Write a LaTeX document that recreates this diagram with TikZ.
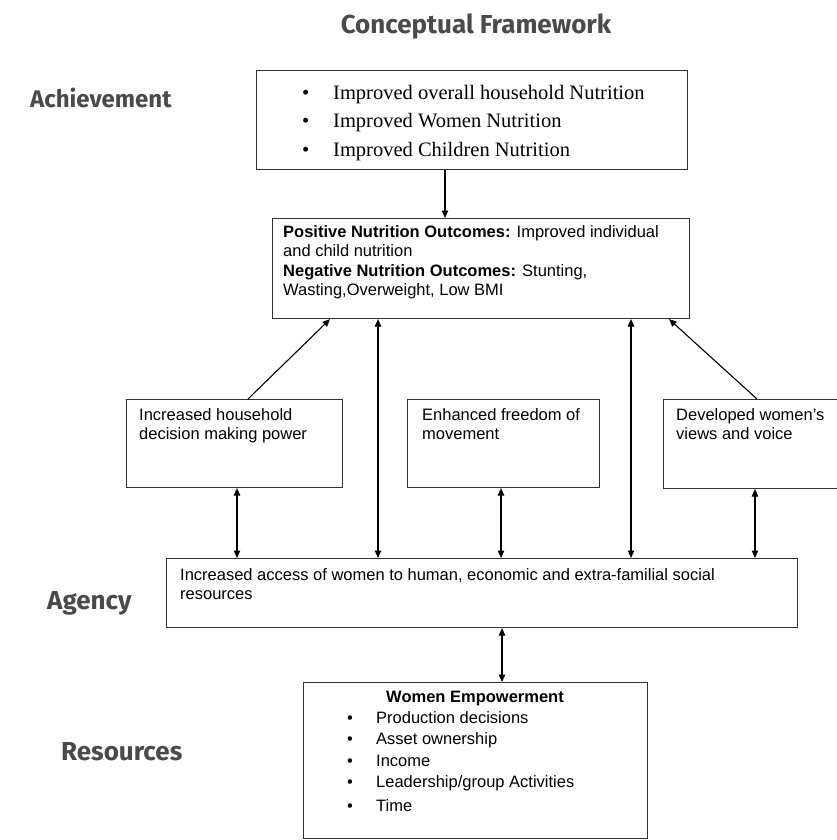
\documentclass[tikz,border=0pt]{standalone}
\usepackage{fontspec}
\setmainfont{Liberation Sans}
\newfontfamily\serifb{Liberation Serif}
\newfontfamily\headf{Fira Sans}
\usetikzlibrary{arrows.meta}
\definecolor{headc}{HTML}{4A4A4A}
\begin{document}
\begin{tikzpicture}[x=1pt,y=-1pt,
 boxc/.style={draw=black!80, line width=1.1pt, rectangle, anchor=north west, inner sep=0pt},
 txt/.style={anchor=north west, inner sep=0pt, align=left, font=\fontsize{16.5}{19.5}\selectfont},
 head/.style={font=\headf\bfseries\fontsize{26}{30}\selectfont, text=headc, inner sep=0pt},
 arr/.style={line width=1.1pt, -{Triangle[length=7.5pt,width=6.5pt]}},
 darr/.style={line width=1.1pt, {Triangle[length=7.5pt,width=6.5pt]}-{Triangle[length=7.5pt,width=6.5pt]}}]
\useasboundingbox (0,0) rectangle (836,840);

% headings
\node[head, anchor=base] (title) at (476,34) {Conceptual Framework};
\node[head, anchor=base west, font=\headf\bfseries\fontsize{24}{28}\selectfont] (hach) at (30,108) {Achievement};
\node[head, anchor=base west] (hag) at (47,609) {Agency};
\node[head, anchor=base west] (hres) at (61,760) {Resources};

% boxes
\node[boxc, minimum width=431pt, minimum height=99pt] (tb) at (256,70) {};
\node[boxc, minimum width=417pt, minimum height=100pt] (b2) at (272,218) {};
\node[boxc, minimum width=216pt, minimum height=88pt] (lb) at (126,399) {};
\node[boxc, minimum width=192pt, minimum height=88pt] (mb) at (407,399) {};
\node[boxc, minimum width=190pt, minimum height=89pt] (rb) at (663,399) {};
\node[boxc, minimum width=631pt, minimum height=69pt] (ag) at (166,558) {};
\node[boxc, minimum width=344pt, minimum height=156pt] (we) at (303,682) {};

% texts
\node[txt, font=\serifb\fontsize{20.5}{28.5}\selectfont] (tbt) at (302,85)
 {\makebox[31pt][l]{•}Improved overall household Nutrition\\
  \makebox[31pt][l]{•}Improved Women Nutrition\\
  \makebox[31pt][l]{•}Improved Children Nutrition};
\node[txt] (b2t) at (283,225)
 {\textbf{Positive Nutrition Outcomes:} Improved individual\\
  and child nutrition\\
  \textbf{Negative Nutrition Outcomes:} Stunting,\\
  Wasting,Overweight, Low BMI};
\node[txt] (lbt) at (139,408) {Increased household\\decision making power};
\node[txt] (mbt) at (422,408) {Enhanced freedom of\\movement};
\node[txt] (rbt) at (676,408) {Developed women’s\\views and voice};
\node[txt, font=\fontsize{16.5}{19}\selectfont] (agt) at (180,568)
 {Increased access of women to human, economic and extra-familial social\\resources};
\node[anchor=base, inner sep=0pt, font=\bfseries\fontsize{16.5}{19}\selectfont] (wet) at (475,702) {Women Empowerment};
\node[txt, font=\fontsize{16.5}{21.5}\selectfont] (wel) at (347,711)
 {\makebox[29pt][l]{•}Production decisions\\
  \makebox[29pt][l]{•}Asset ownership\\
  \makebox[29pt][l]{•}Income\\
  \makebox[29pt][l]{•}Leadership/group Activities\\[2.5pt]
  \makebox[29pt][l]{•}Time};

% connectors
\draw[arr] ([xshift=189pt]tb.south west) -- ([xshift=173pt]b2.north west);
\draw[arr] ([xshift=122pt]lb.north west) -- ([xshift=58pt]b2.south west);
\draw[arr] ([xshift=94pt]rb.north west) -- ([xshift=397pt]b2.south west);
\draw[darr] ([xshift=106pt]b2.south west) -- ([xshift=212pt]ag.north west);
\draw[darr] ([xshift=359pt]b2.south west) -- ([xshift=465pt]ag.north west);
\draw[darr] ([xshift=111pt]lb.south west) -- ([xshift=71pt]ag.north west);
\draw[darr] ([xshift=94pt]mb.south west) -- ([xshift=335pt]ag.north west);
\draw[darr] ([xshift=92pt]rb.south west) -- ([xshift=589pt]ag.north west);
\draw[darr] ([xshift=336pt]ag.south west) -- ([xshift=199pt]we.north west);
\end{tikzpicture}
\end{document}
